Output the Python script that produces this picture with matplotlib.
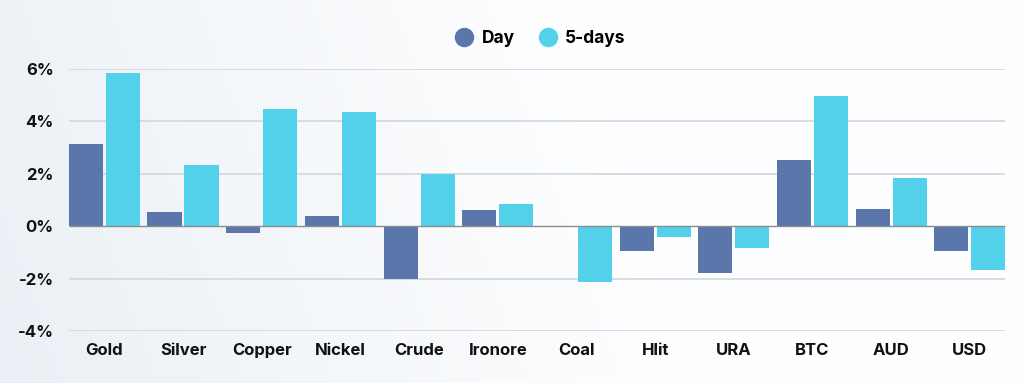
import matplotlib
matplotlib.use("Agg")
import matplotlib.pyplot as plt
import numpy as np
from matplotlib.lines import Line2D

categories = ["Gold", "Silver", "Copper", "Nickel", "Crude", "Ironore", "Coal", "Hlit", "URA", "BTC", "AUD", "USD"]
day = [3.12, 0.53, -0.27, 0.38, -2.02, 0.61, 0.0, -0.95, -1.79, 2.51, 0.65, -0.95]
five_days = [5.83, 2.32, 4.46, 4.34, 1.98, 0.84, -2.13, -0.42, -0.84, 4.95, 1.83, -1.68]
yticks = [-4, -2, 0, 2, 4, 6]
ytick_labels = ["-4%", "-2%", "0%", "2%", "4%", "6%"]
series_names = ["Day", "5-days"]

c_day = "#5a76aa"
c_5d = "#53d1ea"
FONT = ["Inter", "DejaVu Sans"]

fig = plt.figure(figsize=(10.24, 3.83), dpi=100)
# gradient background
bg = fig.add_axes([0, 0, 1, 1], zorder=-10)
xx = np.linspace(0, 1, 256)
yy = np.linspace(0, 1, 128)
X, Y = np.meshgrid(xx, yy)
val = np.clip(1.0 - (X * 1.5 + (1 - Y) * 0.2), 0, 1)
c1 = np.array([0.918, 0.940, 0.962])
c2 = np.array([0.995, 0.997, 1.0])
img = c2[None, None, :] * (1 - val[..., None]) + c1[None, None, :] * val[..., None]
bg.imshow(img, aspect="auto", extent=[0, 1, 0, 1], origin="upper")
bg.axis("off")

ax = fig.add_axes([0.0674, 0.136, 0.922, 0.684])
ax.patch.set_alpha(0)
x = np.arange(len(categories))
w = 0.435
off = 0.235
ax.bar(x - off, day, width=w, color=c_day, zorder=3)
ax.bar(x + off, five_days, width=w, color=c_5d, zorder=3)

x0, x1 = -0.45, len(categories) - 0.45
ax.set_ylim(-4, 6)
ax.set_xlim(x0, x1)
ax.set_yticks(yticks)
ax.set_yticklabels(ytick_labels)
gx1 = len(categories) - 1 + off + w / 2
for yv in yticks:
    if yv == 0:
        continue
    ax.hlines(yv, x0, gx1, color="#d3d6da", lw=1.2, zorder=1)
ax.hlines(0, x0, gx1, color="#8a8d90", lw=1.0, zorder=4)
ax.set_xticks(x)
ax.set_xticklabels(categories)
for s in ax.spines.values():
    s.set_visible(False)
ax.tick_params(axis="both", length=0, labelsize=12, colors="#111111")
ax.tick_params(axis="y", pad=11)
ax.tick_params(axis="x", pad=9)
for lab in ax.get_xticklabels() + ax.get_yticklabels():
    lab.set_fontweight("bold")
    lab.set_family(FONT)

handles = [Line2D([0], [0], marker="o", color="none", markerfacecolor=c, markeredgecolor=c, markersize=13)
           for c in (c_day, c_5d)]
leg = fig.legend(handles, series_names, loc="center", bbox_to_anchor=(0.528, 0.9), ncol=2, frameon=False,
                 prop={"family": FONT, "weight": "bold", "size": 12.5}, handletextpad=0.5, columnspacing=1.42,
                 handlelength=1.0)

fig.savefig("out.png", dpi=100)
